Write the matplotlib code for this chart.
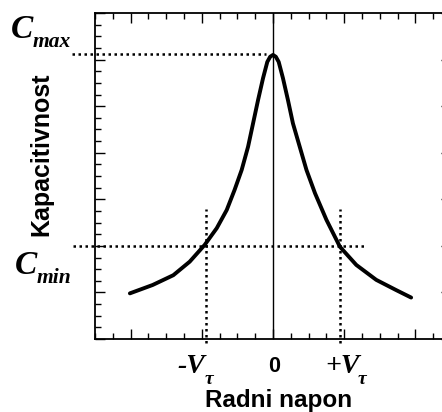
import matplotlib.pyplot as plt
from matplotlib.ticker import MultipleLocator

# curve (x and y in tick units)
volt = [-2.01, -1.69, -1.40, -1.17, -0.96, -0.79, -0.65, -0.54, -0.44, -0.35, -0.28,
        -0.21, -0.14, -0.08, -0.04, 0.0, 0.04, 0.08, 0.14, 0.21, 0.28, 0.375, 0.47,
        0.59, 0.75, 0.94, 1.17, 1.45, 1.73, 1.94]
cap = [0.98, 1.16, 1.37, 1.66, 2.02, 2.38, 2.77, 3.20, 3.63, 4.13, 4.63,
       5.13, 5.60, 5.95, 6.06, 6.10, 6.06, 5.95, 5.60, 5.13, 4.63, 4.13, 3.63,
       3.13, 2.56, 1.98, 1.59, 1.27, 1.05, 0.89]

c_max = 6.13
c_min = 2.0
v_tau = [-0.945, 0.94]

W, H = 442, 412


def px(x, y):
    return x / W, 1 - y / H


fig = plt.figure(figsize=(W / 100, H / 100), dpi=100)
ax = fig.add_axes([95 / W, 73 / H, 356 / W, 326 / H])

ax.plot(volt, cap, color="black", lw=2.8, solid_joinstyle="round", solid_capstyle="round")
ax.axvline(0, color="black", lw=1.0)

dot = dict(color="black", lw=1.8, ls=(0, (1, 1.4)), clip_on=False)
ax.plot([-2.82, -0.1], [c_max, c_max], **dot)
ax.plot([-2.81, 1.28], [c_min, c_min], **dot)
for v in v_tau:
    ax.plot([v, v], [-0.09, 2.79], **dot)

ax.set_xlim(-2.5, 2.5)
ax.set_ylim(0, 7)
ax.xaxis.set_major_locator(MultipleLocator(1))
ax.xaxis.set_minor_locator(MultipleLocator(0.25))
ax.yaxis.set_major_locator(MultipleLocator(1))
ax.yaxis.set_minor_locator(MultipleLocator(0.25))
ax.tick_params(which="both", direction="in", top=True, right=True,
               labelbottom=False, labelleft=False, width=1.0)
ax.tick_params(which="major", length=7)
ax.tick_params(which="minor", length=4)
for s in ax.spines.values():
    s.set_linewidth(1.3)

serif = dict(family="Liberation Serif", weight="bold", style="italic", color="black")
sans = dict(family="Liberation Sans", weight="bold", color="black")

fig.text(*px(11, 38), "C", fontsize=24, va="baseline", **serif)
fig.text(*px(33, 47), "max", fontsize=15.5, va="baseline", **serif)
fig.text(*px(15, 274), "C", fontsize=24, va="baseline", **serif)
fig.text(*px(37, 283), "min", fontsize=15.5, va="baseline", **serif)

fig.text(*px(177, 373), "-V", fontsize=20, va="baseline", **serif)
fig.text(*px(205, 384), "\u03c4", fontsize=14, va="baseline", **serif)
fig.text(*px(274, 372), "0", fontsize=15.5, va="baseline", ha="center", **sans)
fig.text(*px(325, 373), "+V", fontsize=20, va="baseline", **serif)
fig.text(*px(358, 384), "\u03c4", fontsize=14, va="baseline", **serif)

fig.text(*px(279, 407), "Radni napon", fontsize=17.5, va="baseline", ha="center", **sans)
fig.text(*px(41, 154), "Kapacitivnost", fontsize=18, rotation=90,
         va="center", ha="center", **sans)

fig.savefig("out.png", dpi=100)
